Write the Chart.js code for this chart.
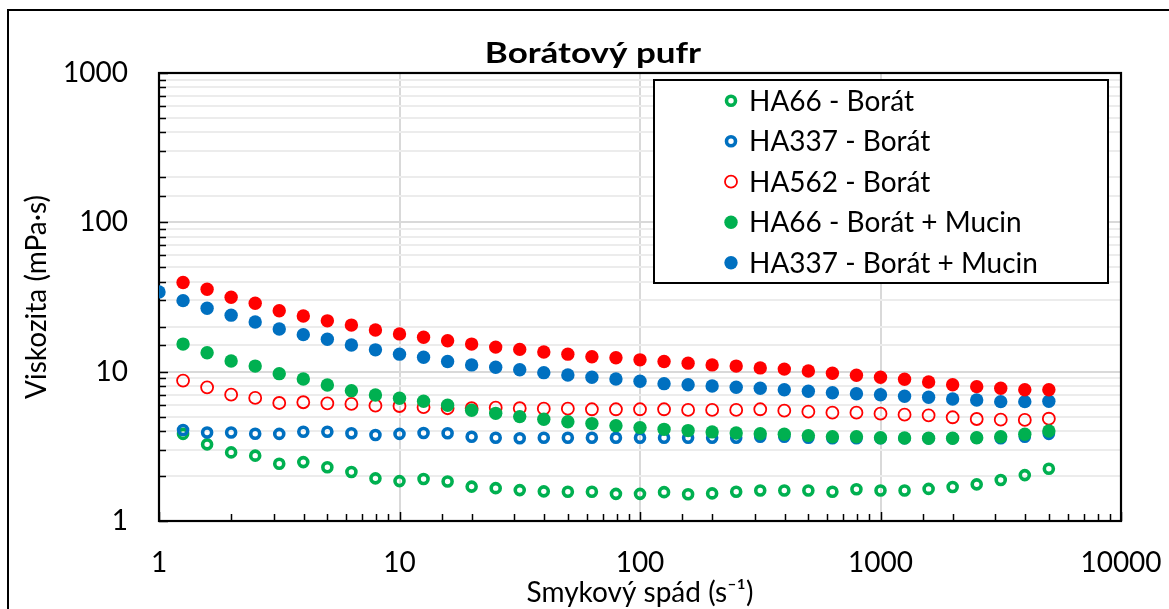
<!DOCTYPE html>
<html lang="cs">
<head>
<meta charset="UTF-8">
<title>Borátový pufr</title>
<script src="https://cdn.jsdelivr.net/npm/chart.js"></script>
<style>
    html, body { margin: 0; padding: 0; background: #fff; }
</style>
</head>
<body>
<canvas id="viscChart" width="1169" height="609"></canvas>

<script>
    // smykový spád (s-1)
    const shearRate = [1, 1.259, 1.585, 1.995, 2.512, 3.162, 3.981, 5.012, 6.31, 7.943,
        10, 12.59, 15.85, 19.95, 25.12, 31.62, 39.81, 50.12, 63.1, 79.43,
        100, 125.9, 158.5, 199.5, 251.2, 316.2, 398.1, 501.2, 631, 794.3,
        1000, 1259, 1585, 1995, 2512, 3162, 3981, 5012];

    // viskozita (mPa·s)
    const ha66Borat = [null, 3.83, 3.26, 2.88, 2.74, 2.42, 2.48, 2.29, 2.13, 1.93,
        1.85, 1.91, 1.84, 1.70, 1.66, 1.61, 1.58, 1.57, 1.57, 1.52,
        1.52, 1.56, 1.51, 1.53, 1.57, 1.60, 1.60, 1.60, 1.57, 1.63,
        1.60, 1.60, 1.64, 1.69, 1.76, 1.88, 2.03, 2.24];
    const ha337Borat = [null, 4.07, 3.91, 3.91, 3.84, 3.83, 3.96, 3.96, 3.87, 3.77,
        3.83, 3.88, 3.87, 3.67, 3.61, 3.58, 3.61, 3.61, 3.61, 3.61,
        3.61, 3.61, 3.61, 3.61, 3.61, 3.67, 3.67, 3.61, 3.58, 3.58,
        3.58, 3.58, 3.58, 3.58, 3.61, 3.58, 3.67, 3.83];
    const ha562Borat = [null, 8.71, 7.86, 7.01, 6.67, 6.17, 6.24, 6.14, 6.08, 5.92,
        5.89, 5.78, 5.69, 5.69, 5.74, 5.69, 5.65, 5.65, 5.60, 5.60,
        5.60, 5.60, 5.54, 5.54, 5.54, 5.60, 5.48, 5.40, 5.31, 5.31,
        5.23, 5.15, 5.10, 4.95, 4.82, 4.77, 4.75, 4.84];
    const ha66Mucin = [null, 15.3, 13.4, 11.8, 10.9, 9.7, 8.93, 8.15, 7.46, 6.98,
        6.63, 6.34, 5.96, 5.51, 5.26, 5.00, 4.80, 4.62, 4.49, 4.35,
        4.22, 4.11, 4.03, 3.95, 3.88, 3.84, 3.81, 3.73, 3.67, 3.67,
        3.61, 3.60, 3.58, 3.58, 3.61, 3.67, 3.81, 4.01];
    const ha337Mucin = [34.2, 29.9, 26.6, 23.9, 21.5, 19.3, 17.7, 16.5, 15.1, 14.0,
        13.1, 12.5, 11.7, 11.1, 10.7, 10.3, 9.85, 9.5, 9.17, 8.93,
        8.63, 8.31, 8.18, 8.02, 7.86, 7.74, 7.57, 7.39, 7.23, 7.12,
        7.01, 6.84, 6.74, 6.56, 6.46, 6.30, 6.30, 6.33];
    const ha562Mucin = [null, 39.5, 35.6, 31.5, 28.7, 25.6, 23.6, 21.9, 20.5, 19.0,
        17.9, 17.0, 16.1, 15.3, 14.6, 14.1, 13.55, 13.1, 12.6, 12.4,
        12.0, 11.7, 11.4, 11.1, 10.9, 10.6, 10.4, 10.1, 9.75, 9.46,
        9.17, 8.9, 8.53, 8.18, 7.94, 7.74, 7.57, 7.57];

    const xTicks = [1, 10, 100, 1000, 10000];
    const yTicks = [1, 10, 100, 1000];

    const GREEN = '#00B050', BLUE = '#0070C0', RED = '#FF0000';
    const FONT = 'Lato';

    // styl bodů: 'ring' = malé tlusté kolečko, 'open' = tenké kolečko, 'dot' = plné
    const series = [
        { label: 'HA66 - Borát', values: ha66Borat, color: GREEN, mark: 'ring', legend: true },
        { label: 'HA337 - Borát', values: ha337Borat, color: BLUE, mark: 'ring', legend: true },
        { label: 'HA562 - Borát', values: ha562Borat, color: RED, mark: 'open', legend: true },
        { label: 'HA66 - Borát + Mucin', values: ha66Mucin, color: GREEN, mark: 'dot', legend: true },
        { label: 'HA337 - Borát + Mucin', values: ha337Mucin, color: BLUE, mark: 'dot', legend: true },
        { label: 'HA562 - Borát + Mucin', values: ha562Mucin, color: RED, mark: 'dot', legend: false }
    ];

    const markStyle = {
        ring: { r: 4.5, bw: 3.6, fill: false },
        open: { r: 6, bw: 1.8, fill: false },
        dot:  { r: 6.7, bw: 0, fill: true }
    };

    function isMajor(v) {
        const l = Math.log10(v);
        return Math.abs(l - Math.round(l)) < 1e-9;
    }

    const datasets = series.map((s, i) => {
        const st = markStyle[s.mark];
        return {
            label: s.label,
            data: shearRate.map((x, j) => ({ x: x, y: s.values[j] })).filter(p => p.y !== null),
            showLine: false,
            pointRadius: st.r,
            pointHoverRadius: st.r,
            pointBorderWidth: st.bw,
            borderColor: s.color,
            backgroundColor: st.fill ? s.color : 'rgba(0,0,0,0)',
            order: series.length - i
        };
    });

    // rámeček, vnitřní značky os, nadpis, legenda
    const decorPlugin = {
        id: 'decor',
        beforeDatasetsDraw(chart) {
            const { ctx, chartArea: a, scales } = chart;
            ctx.save();
            ctx.strokeStyle = '#000';
            ctx.lineWidth = 1.5;
            ctx.beginPath();
            scales.x.ticks.forEach(t => {
                const px = Math.round(scales.x.getPixelForValue(t.value)) + 0.5;
                const len = isMajor(t.value) ? 9 : 7;
                ctx.moveTo(px, a.bottom);
                ctx.lineTo(px, a.bottom - len);
            });
            scales.y.ticks.forEach(t => {
                const py = Math.round(scales.y.getPixelForValue(t.value)) + 0.5;
                const len = isMajor(t.value) ? 9 : 7;
                ctx.moveTo(a.left, py);
                ctx.lineTo(a.left + len, py);
            });
            ctx.stroke();
            ctx.lineWidth = 2.2;
            ctx.strokeRect(a.left, a.top, a.right - a.left, a.bottom - a.top);
            ctx.restore();
        },
        afterDraw(chart) {
            const { ctx } = chart;
            ctx.save();
            // vnější rámeček grafu
            ctx.strokeStyle = '#000';
            ctx.lineWidth = 2;
            ctx.strokeRect(8, 10, 1200, 700);

            // nadpis (Calibri Bold je širší, proto roztažení)
            ctx.fillStyle = '#000';
            ctx.font = 'bold 28px ' + FONT;
            ctx.textAlign = 'center';
            ctx.textBaseline = 'alphabetic';
            ctx.save();
            ctx.translate(593, 63);
            ctx.scale(1.25, 1);
            ctx.fillText('Borátový pufr', 0, 0);
            ctx.restore();

            // legenda
            const lx = 654, ly = 80, lw = 454, lh = 203;
            ctx.fillStyle = '#fff';
            ctx.fillRect(lx, ly, lw, lh);
            ctx.lineWidth = 2;
            ctx.strokeRect(lx, ly, lw, lh);
            ctx.font = '28px ' + FONT;
            ctx.textAlign = 'left';
            ctx.textBaseline = 'middle';
            let row = 0;
            series.forEach(s => {
                if (!s.legend) return;
                const st = markStyle[s.mark];
                const cy = 100.7 + row * 40.5;
                ctx.beginPath();
                ctx.arc(731, cy, st.r, 0, Math.PI * 2);
                if (st.fill) {
                    ctx.fillStyle = s.color;
                    ctx.fill();
                } else {
                    ctx.strokeStyle = s.color;
                    ctx.lineWidth = st.bw;
                    ctx.stroke();
                }
                ctx.fillStyle = '#000';
                ctx.fillText(s.label, 749, cy + 1);
                row++;
            });
            ctx.restore();
        }
    };

    const ctx = document.getElementById('viscChart').getContext('2d');
    const viscChart = new Chart(ctx, {
        type: 'scatter',
        data: { datasets: datasets },
        options: {
            responsive: false,
            animation: false,
            devicePixelRatio: 1,
            layout: { padding: { left: 0, top: 73, right: 48, bottom: 0 } },
            plugins: {
                legend: { display: false },
                title: { display: false },
                tooltip: { enabled: false }
            },
            scales: {
                x: {
                    type: 'logarithmic',
                    min: 1,
                    max: 10000,
                    afterFit: s => { s.height = 88; s.paddingLeft = 0; s.paddingRight = 0; },
                    border: { display: false },
                    grid: {
                        drawTicks: false,
                        lineWidth: 2,
                        color: c => (c.tick && isMajor(c.tick.value)) ? '#d9d9d9' : 'rgba(0,0,0,0)'
                    },
                    ticks: {
                        autoSkip: false,
                        maxRotation: 0,
                        padding: 25,
                        color: '#000',
                        font: { family: FONT, size: 28 },
                        callback: v => xTicks.includes(v) ? String(v) : ''
                    },
                    title: {
                        display: true,
                        text: 'Smykový spád (s⁻¹)',
                        color: '#000',
                        font: { family: FONT, size: 28, lineHeight: 1 },
                        padding: { top: 0, bottom: 2 }
                    }
                },
                y: {
                    type: 'logarithmic',
                    min: 1,
                    max: 1000,
                    afterFit: s => { s.width = 159; s.paddingTop = 0; s.paddingBottom = 0; },
                    border: { display: false },
                    grid: {
                        drawTicks: false,
                        lineWidth: 2,
                        color: c => (c.tick && isMajor(c.tick.value)) ? '#d9d9d9' : '#ececec'
                    },
                    ticks: {
                        autoSkip: false,
                        padding: 31,
                        color: '#000',
                        font: { family: FONT, size: 28 },
                        callback: v => yTicks.includes(v) ? String(v) : ''
                    },
                    title: {
                        display: true,
                        text: 'Viskozita (mPa·s)',
                        color: '#000',
                        font: { family: FONT, size: 28, lineHeight: 1 },
                        padding: { top: 23, bottom: 0 }
                    }
                }
            }
        },
        plugins: [decorPlugin]
    });
</script>
</body>
</html>
